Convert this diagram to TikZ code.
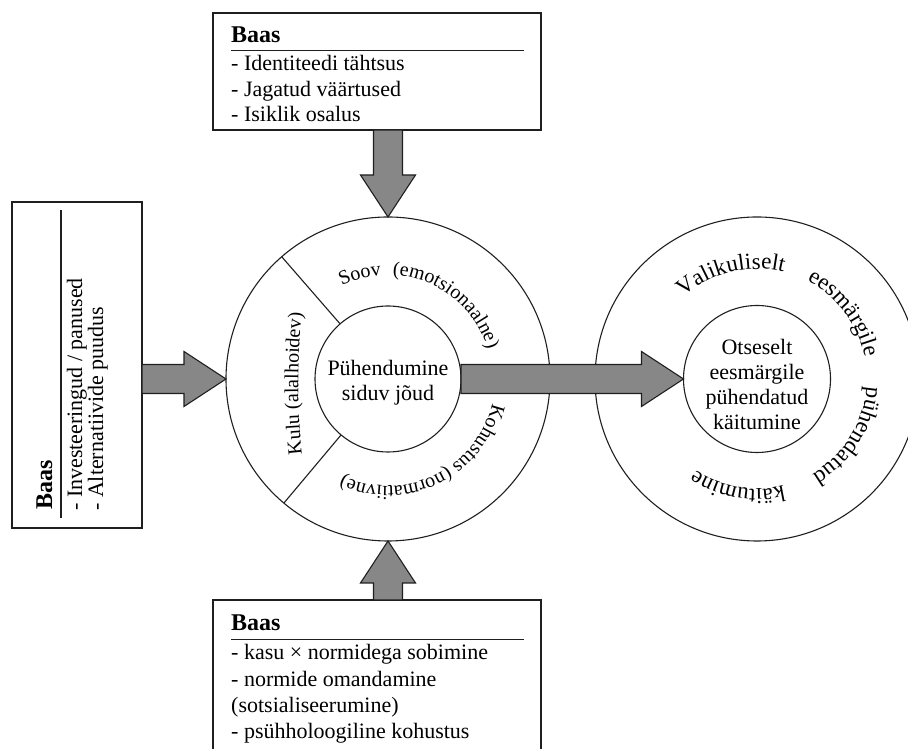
\documentclass[tikz,border=0pt]{standalone}
\usepackage{fontspec}
\setmainfont{Liberation Serif}
\usetikzlibrary{calc,decorations.text}

\newcommand\ltxt{\fontsize{20}{24}\selectfont}
\newcommand\rtxt{\fontsize{23}{27}\selectfont}

\tikzset{
  boxstyle/.style={draw=black!88, line width=1.3pt, inner sep=0pt, outer sep=0pt},
  fatstyle/.style={draw=black!88, fill=black!47, line width=1.1pt, line join=miter},
  ring/.style={draw=black!88, line width=1.1pt, circle, inner sep=0pt, outer sep=0pt},
  boxtxt/.style={font=\fontsize{22}{25}\selectfont, inner sep=0pt, anchor=base west},
  headtxt/.style={inner sep=0pt, anchor=base west, font=\fontsize{24}{27}\selectfont\bfseries},
  rulestyle/.style={draw=black!88, line width=1.1pt},
  midtxt/.style={align=center, inner sep=0pt, font=\fontsize{22}{25}\selectfont},
}

% fat arrow from #1 (tail) to #2 (tip)
\newcommand\fatarrow[2]{%
  \path ($(#2)!42pt!(#1)$) coordinate (fahb);
  \draw[fatstyle] ($(#1)!14.5pt!90:(#2)$) -- ($(fahb)!14.5pt!90:(#2)$)
    -- ($(fahb)!27.5pt!90:(#2)$) -- (#2) -- ($(fahb)!27.5pt!-90:(#2)$)
    -- ($(fahb)!14.5pt!-90:(#2)$) -- ($(#1)!14.5pt!-90:(#2)$) -- cycle;
}

\begin{document}
\begin{tikzpicture}[x=1pt,y=1pt]
\useasboundingbox (0,0) rectangle (908,749);
\clip (0,0) rectangle (908,749);

% ---------- circles ----------
\node[ring, minimum size=324pt] (c1) at (388,370) {};
\node[ring, minimum size=146pt] (c1in) at (388,370) {};
\node[ring, minimum size=324pt] (c2) at (757,370) {};
\node[ring, minimum size=147pt] (c2in) at (757,370) {};

% dividers
\draw[rulestyle] ($(c1.center)+(131:73)$) -- ($(c1.center)+(131:162)$);
\draw[rulestyle] ($(c1.center)+(230:73)$) -- ($(c1.center)+(230:162)$);

% center texts
\node[midtxt] (t1) at ($(c1.center)+(0,-4)$) {Pühendumine\\siduv jõud};
\node[midtxt] (t2) at ($(c2.center)+(0,-5)$) {Otseselt\\eesmärgile\\pühendatud\\käitumine};

% ring texts, left circle
\path[decorate, decoration={text along path, text align=center, text={|\ltxt|Soov}}]
  ($(c1.center)+(140:104)$) arc[start angle=140, end angle=70, radius=104];
\path[decorate, decoration={text along path, text align=center, text={|\ltxt|(emotsionaalne)}}]
  ($(c1.center)+(97:104)$) arc[start angle=97, end angle=7, radius=104];
\path[decorate, decoration={text along path, text align=center, text={|\ltxt|Kohustus (normatiivne)}}]
  ($(c1.center)+(-4:107)$) arc[start angle=-4, end angle=-124, radius=107];
\path[decorate, decoration={text along path, text align=center, text={|\ltxt|Kulu (alalhoidev)}}]
  (302,294) .. controls (297,340) and (297,390) .. (302,437);

% ring texts, right circle
\path[decorate, decoration={text along path, text align=center, text={|\rtxt|Valikuliselt}}]
  ($(c2.center)+(149:110)$) arc[start angle=149, end angle=59, radius=110];
\path[decorate, decoration={text along path, text align=center, text={|\rtxt|eesmärgile}}]
  ($(c2.center)+(82:110)$) arc[start angle=82, end angle=-8, radius=110];
\path[decorate, decoration={text along path, text align=center, text={|\rtxt|pühendatud}}]
  ($(c2.center)+(13:110)$) arc[start angle=13, end angle=-77, radius=110];
\path[decorate, decoration={text along path, text align=center, text={|\rtxt|käitumine}}]
  ($(c2.center)+(-55:110)$) arc[start angle=-55, end angle=-145, radius=110];

% ---------- top box ----------
\node[boxstyle, anchor=north west, minimum width=328pt, minimum height=117pt] (topbox) at (213,736) {};
\node[headtxt] (tb0) at (231,706) {Baas};
\draw[rulestyle] (231,698.3) coordinate (tr1) -- (524,698.3) coordinate (tr2);
\node[boxtxt] (tb1) at (231,678.5) {- Identiteedi tähtsus};
\node[boxtxt] (tb2) at (231,652.5) {- Jagatud väärtused};
\node[boxtxt] (tb3) at (231,627) {- Isiklik osalus};

% ---------- left box ----------
\node[boxstyle, anchor=south west, minimum width=130pt, minimum height=326pt] (leftbox) at (12,221) {};
\node[headtxt, rotate=90] (lb0) at (52,239) {Baas};
\draw[rulestyle] (61,231) coordinate (lr1) -- (61,539) coordinate (lr2);
\node[boxtxt, rotate=90] (lb1) at (82,238) {- Investeeringud / panused};
\node[boxtxt, rotate=90] (lb2) at (103,238) {- Alternatiivide puudus};

% ---------- bottom box ----------
\node[boxstyle, anchor=north west, minimum width=328pt, minimum height=175pt] (botbox) at (213,149) {};
\node[headtxt] (bb0) at (231,118.5) {Baas};
\draw[rulestyle] (231,109.7) coordinate (br1) -- (524,109.7) coordinate (br2);
\node[boxtxt] (bb1) at (231,89) {- kasu × normidega sobimine};
\node[boxtxt] (bb2) at (231,62.5) {- normide omandamine};
\node[boxtxt] (bb3) at (231,36) {(sotsialiseerumine)};
\node[boxtxt] (bb4) at (231,10.5) {- psühholoogiline kohustus};

% ---------- arrows ----------
\coordinate (ta) at (c1.north |- topbox.south);
\coordinate (la) at (leftbox.east |- c1.west);
\coordinate (ba) at (c1.south |- botbox.north);
\fatarrow{ta}{c1.north}
\fatarrow{la}{c1.west}
\fatarrow{ba}{c1.south}
\fatarrow{c1in.east}{c2in.west}
\end{tikzpicture}
\end{document}
